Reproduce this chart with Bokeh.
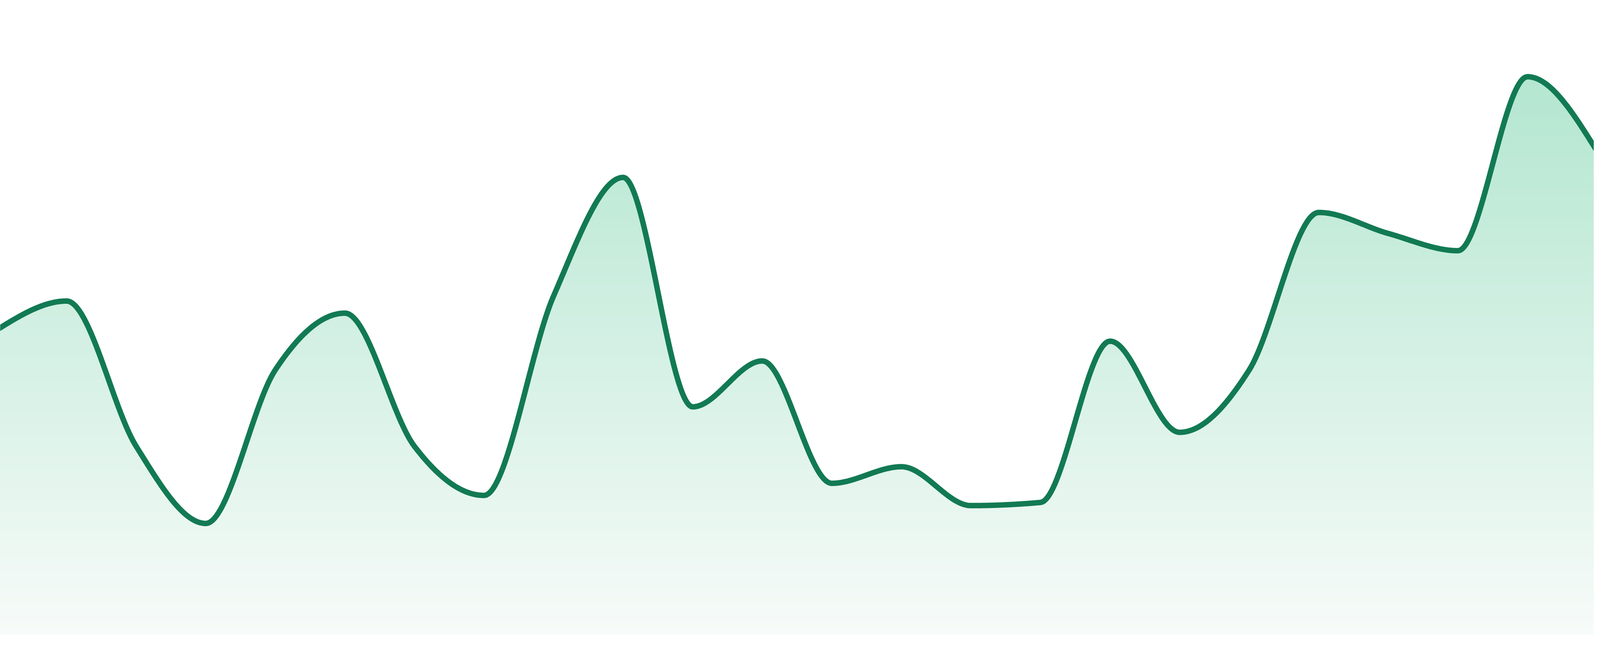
import numpy as np
from bokeh.plotting import figure
from bokeh.models import Range1d
from bokeh.embed import file_html
from bokeh.resources import INLINE

# ---- data ----
points = list(range(24))
values = [47.8, 52.3, 29.5, 17.4, 41.5, 50.4, 29.5, 21.8, 53.1, 71.7, 35.7, 42.9,
          23.7, 26.3, 20.2, 20.7, 46.0, 31.7, 41.5, 66.2, 62.9, 60.2, 87.5, 75.8]

LINE_COLOR = "#127a53"
TOP_RGB = (179, 230, 208)      # fill colour near the top of the chart
BOTTOM_RGB = (247, 251, 249)   # fill colour at the baseline
TOP_LEVEL = 87.7


def monotone_tangents(x, y):
    x = np.asarray(x, float)
    y = np.asarray(y, float)
    n = len(x)
    t = np.zeros(n)
    for i in range(1, n - 1):
        h0 = x[i] - x[i - 1]
        h1 = x[i + 1] - x[i]
        s0 = (y[i] - y[i - 1]) / h0
        s1 = (y[i + 1] - y[i]) / h1
        p = (s0 * h1 + s1 * h0) / (h0 + h1)
        t[i] = (np.sign(s0) + np.sign(s1)) * min(abs(s0), abs(s1), 0.5 * abs(p))
    h = x[1] - x[0]
    t[0] = (3 * (y[1] - y[0]) / h - t[1]) / 2
    h = x[-1] - x[-2]
    t[-1] = (3 * (y[-1] - y[-2]) / h - t[-2]) / 2
    return t


def monotone_path(x, y, samples=60):
    x = np.asarray(x, float)
    y = np.asarray(y, float)
    t = monotone_tangents(x, y)
    xs, ys = [], []
    s = np.linspace(0, 1, samples)
    h00 = 2 * s**3 - 3 * s**2 + 1
    h10 = s**3 - 2 * s**2 + s
    h01 = -2 * s**3 + 3 * s**2
    h11 = s**3 - s**2
    for i in range(len(x) - 1):
        h = x[i + 1] - x[i]
        seg_x = x[i] + s * h
        seg_y = h00 * y[i] + h10 * h * t[i] + h01 * y[i + 1] + h11 * h * t[i + 1]
        if i > 0:
            seg_x, seg_y = seg_x[1:], seg_y[1:]
        xs.append(seg_x)
        ys.append(seg_y)
    return np.concatenate(xs), np.concatenate(ys)


def grad_color(v):
    f = v / TOP_LEVEL
    c = [int(round(b + (tp - b) * f)) for tp, b in zip(TOP_RGB, BOTTOM_RGB)]
    c = [min(255, max(0, k)) for k in c]
    return "#%02x%02x%02x" % tuple(c)


xs, ys = monotone_path(points, values)

# page geometry: the page is laid out in a viewport 4096 px wide and 1680 px tall
VIEW_W, VIEW_H = 4096, 1680
W, H = VIEW_W - 16, VIEW_H - 16
n = len(points)
px_per_pt = 4800 / (n - 1)            # reference pixels per category step
sx = 4800 / VIEW_W                     # reference px per page px (horizontal)
x_lo = 8 * sx / px_per_pt
x_hi = (8 + W) * sx / px_per_pt
scale = 16.32
y_hi = (1632 - 8) / scale
y_lo = (1632 - (8 + H)) / scale

p = figure(width=W, height=H, output_backend="svg", toolbar_location=None,
           x_range=Range1d(x_lo, x_hi), y_range=Range1d(y_lo, y_hi),
           x_axis_location=None, y_axis_location=None,
           min_border=0, min_border_left=0, min_border_right=0,
           min_border_top=0, min_border_bottom=0)
p.grid.visible = False
p.outline_line_color = None
p.background_fill_color = "white"
p.border_fill_color = "white"

# gradient fill under the curve, painted as overlapping bands (top colour first)
levels = np.linspace(0, 100, 101)[1:]
step = levels[1] - levels[0]
zeros = np.zeros_like(ys)
for hi in levels[::-1]:
    p.varea(x=xs, y1=zeros, y2=np.minimum(ys, hi),
            fill_color=grad_color(hi - step / 2), fill_alpha=1.0)

p.line(xs, ys, line_color=LINE_COLOR, line_width=14,
       line_join="round", line_cap="round")

open("out.html", "w").write(file_html(p, INLINE))
